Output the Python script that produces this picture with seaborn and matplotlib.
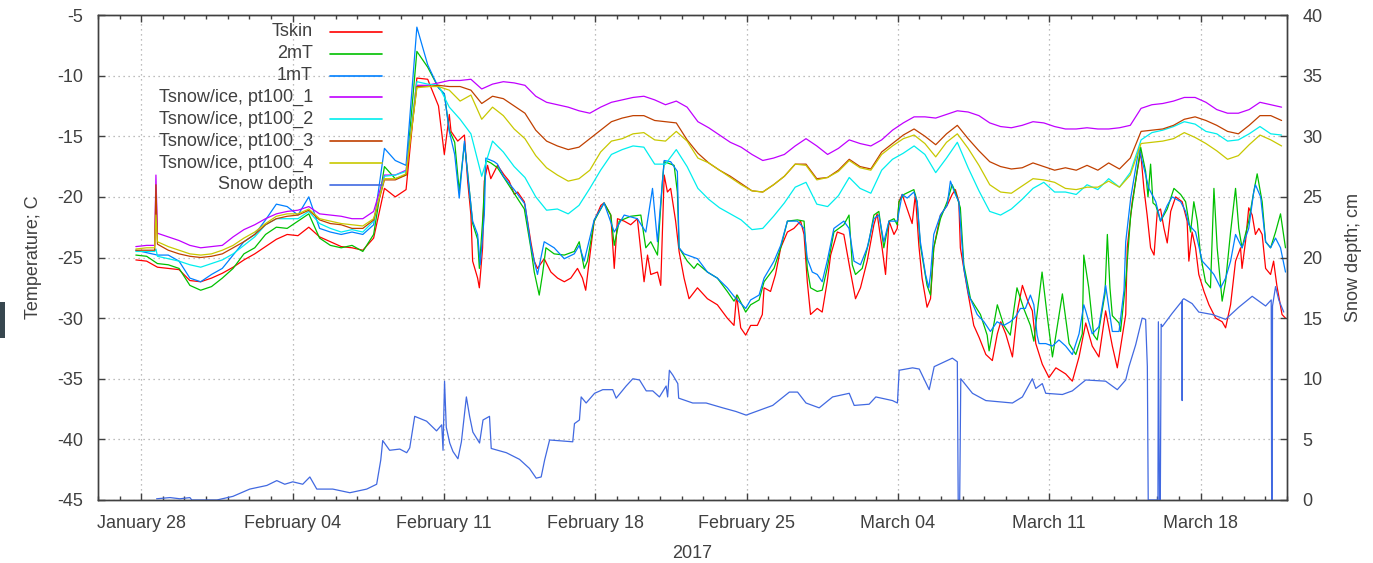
import numpy as np
import pandas as pd
import matplotlib
matplotlib.use("Agg")
import matplotlib.pyplot as plt
import matplotlib.dates as mdates
from matplotlib.lines import Line2D
from matplotlib.patches import Rectangle
import seaborn as sns

# Time stamps are stored as days since 2017-01-26 00:00
START = pd.Timestamp("2017-01-26")

# half-daily samples of the air / surface temperatures up to Feb 10
early_days = np.arange(1.75, 15.76, 0.5)
# half-daily samples for the snow/ice thermistors (plus the short spike on Jan 28)
pt_days = np.insert(np.arange(1.75, 54.76, 0.5), 2, [2.62, 2.68])

tskin_early = [
    -25.2, -25.3, -25.8, -25.9, -26.0, -26.9, -27.0, -26.7, -26.3, -25.8,
    -25.2, -24.7, -24.1, -23.5, -23.1, -23.2, -22.5, -23.3, -23.7, -24.1,
    -24.2, -24.4, -23.4, -19.3, -20.0, -19.4, -10.2, -10.3, -12.5,
]
t2m_early = [
    -24.8, -24.9, -25.5, -25.6, -25.9, -27.3, -27.7, -27.4, -26.7, -25.9,
    -24.7, -24.2, -23.1, -22.5, -22.6, -22.0, -21.4, -23.4, -24.0, -24.2,
    -24.0, -24.5, -23.1, -17.5, -18.5, -18.2, -8.0, -9.3, -11.0,
]
t1m_early = [
    -24.4, -24.6, -24.8, -24.8, -25.3, -26.7, -27.0, -26.4, -25.9, -24.8,
    -23.7, -23.1, -21.9, -20.6, -20.8, -21.5, -20.0, -22.6, -22.9, -23.1,
    -22.9, -23.1, -22.3, -16.0, -17.0, -17.4, -6.0, -9.1, -11.0,
]

# (day, value) records from Feb 11 onwards, logged more densely
tskin_late = [
    (16.02, -16.5), (16.25, -13.2), (16.33, -14.6), (16.64, -15.4), (16.95, -14.9),
    (17.10, -18.7), (17.25, -21.5), (17.33, -25.3), (17.56, -26.7), (17.64, -27.5),
    (17.79, -24.2), (17.87, -18.7), (18.02, -17.4), (18.17, -18.5), (18.48, -17.4),
    (18.79, -18.2), (19.02, -18.7), (19.26, -19.8), (19.41, -19.6), (19.72, -20.4),
    (19.87, -22.0), (20.02, -23.7), (20.18, -25.3), (20.33, -25.9), (20.64, -25.1),
    (20.95, -26.2), (21.26, -26.7), (21.57, -27.0), (21.87, -26.7), (22.18, -25.9),
    (22.41, -26.7), (22.56, -27.7), (22.72, -25.3), (22.95, -22.0), (23.26, -20.7),
    (23.41, -20.5), (23.72, -21.5), (23.88, -25.9), (24.03, -21.8), (24.34, -22.0),
    (24.64, -22.3), (24.95, -21.8), (25.26, -27.0), (25.42, -24.8), (25.57, -26.4),
    (25.88, -26.2), (26.03, -27.3), (26.19, -18.2), (26.34, -19.6), (26.49, -19.3),
    (26.72, -22.0), (26.88, -24.5), (27.11, -26.7), (27.34, -28.4), (27.73, -27.5),
    (28.19, -28.4), (28.65, -28.9), (29.11, -30.0), (29.42, -30.6), (29.54, -28.1),
    (29.73, -30.8), (29.96, -31.4), (30.19, -30.6), (30.50, -30.6), (30.73, -29.7),
    (30.81, -27.5), (31.11, -27.8), (31.34, -26.4), (31.58, -24.2), (31.89, -22.9),
    (32.19, -22.6), (32.50, -22.0), (32.66, -23.1), (32.81, -27.0), (32.96, -29.7),
    (33.27, -29.2), (33.50, -29.5), (33.73, -27.0), (33.89, -24.8), (34.20, -22.9),
    (34.50, -23.1), (34.81, -26.2), (35.04, -28.4), (35.27, -27.5), (35.58, -25.3),
    (35.89, -22.3), (36.04, -21.4), (36.27, -24.2), (36.43, -26.4), (36.59, -22.0),
    (36.82, -23.1), (36.97, -22.6), (37.05, -20.4), (37.20, -19.8), (37.43, -21.0),
    (37.66, -22.2), (37.81, -19.8), (37.97, -24.0), (38.12, -26.7), (38.35, -29.1),
    (38.51, -28.4), (38.66, -24.2), (38.97, -21.5), (39.28, -20.7), (39.51, -19.8),
    (39.66, -19.4), (39.82, -20.4), (39.89, -24.2), (40.20, -27.5), (40.51, -30.6),
    (40.76, -31.6), (41.07, -33.0), (41.37, -33.5), (41.60, -31.3), (41.76, -30.3),
    (41.99, -31.3), (42.30, -33.2), (42.53, -29.4), (42.76, -27.3), (42.99, -28.5),
    (43.22, -29.4), (43.38, -32.1), (43.68, -33.8), (43.99, -34.9), (44.31, -34.1),
    (44.76, -34.6), (45.07, -35.2), (45.38, -33.2), (45.69, -30.4), (45.99, -32.3),
    (46.30, -33.2), (46.61, -29.4), (46.92, -32.3), (47.15, -34.1), (47.54, -29.7),
    (47.61, -24.2), (47.84, -20.4), (48.07, -17.9), (48.23, -16.3), (48.38, -19.3),
    (48.53, -21.5), (48.69, -24.2), (48.85, -24.8), (49.00, -21.2), (49.15, -21.0),
    (49.31, -22.6), (49.46, -23.8), (49.62, -21.2), (49.85, -20.0), (50.15, -20.4),
    (50.38, -22.0), (50.46, -25.3), (50.61, -22.9), (50.77, -24.2), (50.92, -26.4),
    (51.16, -27.8), (51.39, -28.9), (51.70, -30.0), (52.00, -30.3), (52.16, -30.8),
    (52.39, -28.9), (52.62, -25.3), (52.85, -24.2), (52.92, -25.9), (53.08, -23.7),
    (53.23, -20.9), (53.39, -21.5), (53.54, -23.1), (53.70, -22.6), (53.85, -23.1),
    (54.01, -25.9), (54.24, -26.4), (54.38, -25.3), (54.53, -27.3), (54.77, -29.7),
    (54.93, -30.0),
]

t2m_late = [
    (16.02, -11.5), (16.25, -14.5), (16.50, -15.5), (16.71, -19.5), (16.95, -15.6),
    (17.10, -18.0), (17.33, -22.2), (17.56, -23.5), (17.64, -25.9), (17.79, -22.0),
    (17.94, -17.0), (18.17, -17.2), (18.48, -17.6), (19.10, -19.3), (19.72, -21.0),
    (20.02, -24.2), (20.18, -26.2), (20.41, -28.1), (20.56, -26.4), (20.72, -24.2),
    (21.10, -24.7), (21.57, -24.8), (22.03, -24.5), (22.26, -23.7), (22.49, -25.9),
    (22.64, -25.3), (22.95, -22.0), (23.41, -20.5), (23.72, -21.5), (23.88, -24.0),
    (24.11, -22.0), (24.64, -21.6), (25.11, -21.5), (25.34, -24.2), (25.57, -23.7),
    (25.88, -24.8), (26.11, -18.7), (26.19, -17.1), (26.65, -17.4), (26.80, -19.6),
    (26.88, -24.2), (27.26, -25.3), (27.57, -25.9), (27.73, -25.5), (28.19, -26.2),
    (28.65, -26.7), (29.11, -27.8), (29.42, -28.6), (29.57, -28.1), (29.96, -29.5),
    (30.19, -28.9), (30.58, -28.5), (30.81, -27.0), (31.27, -25.9), (31.58, -24.2),
    (31.89, -22.0), (32.35, -21.9), (32.66, -22.0), (32.81, -25.9), (32.96, -27.5),
    (33.27, -27.8), (33.50, -27.7), (33.73, -25.9), (34.04, -22.9), (34.50, -22.3),
    (34.74, -21.5), (34.89, -25.6), (35.04, -26.4), (35.35, -25.9), (35.66, -23.7),
    (35.89, -21.5), (36.12, -21.2), (36.35, -24.2), (36.59, -22.0), (36.82, -21.8),
    (36.97, -22.3), (37.05, -20.4), (37.28, -19.8), (37.74, -19.4), (37.89, -20.4),
    (38.04, -24.0), (38.35, -27.3), (38.51, -28.1), (38.66, -24.2), (38.97, -21.8),
    (39.28, -20.4), (39.51, -19.0), (39.66, -19.6), (39.89, -20.9), (40.05, -25.6),
    (40.36, -28.4), (40.82, -29.7), (41.13, -31.4), (41.22, -32.7), (41.60, -28.9),
    (41.90, -30.6), (42.20, -31.4), (42.51, -27.5), (42.82, -29.2), (43.13, -30.6),
    (43.29, -31.9), (43.67, -26.2), (43.90, -29.7), (44.15, -33.2), (44.61, -28.0),
    (44.92, -32.1), (45.23, -33.0), (45.53, -31.3), (45.60, -24.8), (45.83, -27.5),
    (46.06, -31.4), (46.22, -31.8), (46.58, -28.0), (46.69, -23.1), (46.81, -27.5),
    (46.92, -29.8), (47.23, -30.4), (47.30, -31.1), (47.54, -27.0), (47.77, -21.5),
    (48.00, -18.7), (48.23, -15.9), (48.46, -17.9), (48.57, -20.0), (48.69, -17.3),
    (48.80, -20.5), (48.93, -20.7), (49.15, -22.0), (49.46, -21.0), (49.77, -19.3),
    (50.08, -19.8), (50.31, -20.4), (50.54, -22.9), (50.69, -20.4), (50.85, -22.0),
    (51.00, -24.8), (51.23, -27.0), (51.46, -27.5), (51.62, -19.3), (51.77, -24.2),
    (52.00, -28.6), (52.16, -27.0), (52.39, -22.9), (52.62, -19.3), (52.77, -22.6),
    (52.92, -24.2), (53.23, -22.0), (53.46, -19.6), (53.62, -18.1), (53.85, -20.4),
    (54.01, -23.7), (54.24, -24.2), (54.47, -22.9), (54.70, -21.4), (54.93, -24.2),
]

t1m_late = [
    (16.02, -11.5), (16.25, -14.6), (16.50, -16.5), (16.71, -20.1), (16.95, -15.4),
    (17.10, -18.2), (17.33, -22.0), (17.56, -23.1), (17.68, -25.6), (17.87, -21.5),
    (17.94, -16.8), (18.33, -17.1), (18.48, -17.3), (18.75, -18.3), (19.25, -19.4),
    (19.75, -20.6), (20.02, -24.0), (20.18, -25.3), (20.33, -26.4), (20.64, -23.7),
    (21.10, -24.2), (21.57, -25.1), (22.03, -24.7), (22.26, -24.0), (22.49, -25.3),
    (22.95, -21.9), (23.41, -20.5), (23.88, -22.9), (24.34, -21.5), (24.95, -21.8),
    (25.34, -22.9), (25.65, -19.3), (25.88, -23.7), (26.19, -17.0), (26.49, -17.1),
    (26.80, -17.9), (26.88, -24.2), (27.11, -24.7), (27.73, -25.1), (28.19, -26.2),
    (28.65, -26.7), (29.11, -27.5), (29.42, -28.2), (29.96, -29.2), (30.19, -28.5),
    (30.58, -28.1), (30.81, -26.7), (31.27, -25.3), (31.58, -24.0), (31.89, -22.0),
    (32.35, -22.0), (32.66, -22.6), (32.81, -25.1), (33.04, -26.2), (33.27, -26.4),
    (33.50, -27.0), (33.73, -25.3), (34.04, -22.6), (34.50, -22.0), (34.74, -22.6),
    (34.97, -25.3), (35.27, -25.6), (35.58, -24.2), (35.89, -21.8), (36.12, -21.5),
    (36.35, -23.7), (36.59, -22.0), (36.97, -22.0), (37.20, -19.8), (37.43, -20.1),
    (37.74, -19.6), (37.89, -20.4), (38.04, -23.7), (38.28, -26.4), (38.43, -27.5),
    (38.51, -26.4), (38.66, -23.1), (38.97, -21.5), (39.28, -20.7), (39.43, -18.7),
    (39.66, -19.8), (39.82, -20.4), (40.05, -25.9), (40.28, -28.1), (40.67, -29.7),
    (40.98, -30.3), (41.28, -31.1), (41.59, -30.3), (41.90, -30.6), (42.20, -30.3),
    (42.44, -29.9), (42.67, -29.2), (42.90, -29.2), (43.13, -28.1), (43.29, -28.9),
    (43.44, -31.4), (43.53, -32.1), (43.84, -32.1), (44.15, -32.3), (44.45, -31.8),
    (44.76, -32.3), (45.07, -33.0), (45.38, -31.3), (45.60, -28.9), (45.69, -29.4),
    (45.99, -31.3), (46.30, -30.7), (46.61, -27.3), (46.92, -31.1), (47.23, -31.1),
    (47.46, -27.7), (47.54, -23.7), (47.77, -20.1), (48.00, -17.6), (48.15, -16.0),
    (48.38, -17.6), (48.61, -19.3), (48.93, -20.4), (49.15, -22.0), (49.46, -20.7),
    (49.69, -20.0), (50.08, -20.4), (50.31, -21.2), (50.46, -22.3), (50.77, -22.9),
    (51.08, -25.3), (51.39, -25.9), (51.62, -26.4), (51.93, -27.5), (52.16, -26.7),
    (52.39, -25.3), (52.62, -23.1), (52.92, -24.2), (53.23, -22.6), (53.46, -19.6),
    (53.54, -19.0), (53.78, -20.0), (54.01, -23.7), (54.24, -24.2), (54.47, -23.4),
    (54.70, -24.2), (54.93, -26.2),
]

pt100_1 = [
    -24.1, -24.0, -24.0, -18.2,
    -23.0, -23.3, -23.6, -24.0, -24.2, -24.1, -24.0, -23.3,
    -22.7, -22.3, -21.8, -21.4, -21.2, -21.1, -20.8, -21.4, -21.5, -21.6,
    -21.8, -21.8, -21.2, -18.2, -18.2, -17.8, -10.8, -10.8, -10.6, -10.4,
    -10.4, -10.3, -11.1, -10.7, -10.5, -10.6, -10.8, -11.7, -12.2, -12.4,
    -12.6, -12.9, -13.1, -12.6, -12.2, -12.0, -11.8, -11.7, -12.0, -12.4,
    -12.1, -12.6, -13.8, -14.3, -14.9, -15.5, -15.9, -16.5, -17.0, -16.8,
    -16.5, -15.8, -15.2, -15.8, -16.5, -16.0, -15.3, -15.6, -15.8, -15.3,
    -14.5, -13.9, -13.4, -13.4, -13.5, -13.2, -12.9, -13.0, -13.3, -13.9,
    -14.2, -14.3, -14.1, -13.8, -13.9, -14.2, -14.4, -14.4, -14.3, -14.4,
    -14.4, -14.3, -14.1, -12.7, -12.4, -12.3, -12.1, -11.8, -11.8, -12.2,
    -12.8, -13.1, -13.1, -12.8, -12.2, -12.4, -12.6,
]

pt100_2 = [
    -24.5, -24.5, -24.5, -24.3,
    -24.9, -25.1, -25.3, -25.6, -25.8, -25.5, -25.2, -24.7,
    -24.0, -23.3, -22.3, -21.8, -21.8, -21.8, -21.2, -22.2, -22.6, -22.9,
    -22.7, -22.9, -22.0, -18.3, -18.2, -17.9, -10.5, -10.7, -10.8, -12.6,
    -13.6, -14.8, -18.3, -15.4, -16.3, -17.5, -18.4, -20.0, -21.1, -21.0,
    -21.4, -20.7, -19.3, -17.8, -16.5, -16.1, -15.8, -15.9, -17.3, -17.3,
    -16.1, -17.5, -19.3, -20.2, -20.9, -21.4, -21.9, -22.7, -22.6, -21.6,
    -20.5, -19.2, -18.8, -20.6, -20.8, -19.9, -18.4, -19.3, -19.7, -17.8,
    -16.9, -16.4, -15.8, -16.5, -18.0, -16.8, -15.5, -17.6, -19.5, -21.2,
    -21.5, -21.0, -20.2, -19.3, -18.8, -19.6, -19.6, -19.8, -19.0, -19.4,
    -18.5, -19.2, -18.0, -15.3, -14.7, -14.5, -14.2, -13.8, -14.0, -14.6,
    -14.8, -15.4, -15.3, -14.8, -14.2, -14.8, -14.9,
]

pt100_3 = [
    -24.4, -24.4, -24.4, -19.0,
    -23.9, -24.4, -24.7, -24.9, -25.0, -24.9, -24.7, -24.2,
    -23.7, -23.1, -22.3, -21.8, -21.6, -21.5, -21.1, -21.9, -22.2, -22.3,
    -22.6, -22.6, -21.9, -18.6, -18.6, -18.2, -10.9, -10.9, -10.8, -10.9,
    -10.9, -11.2, -12.3, -11.7, -11.9, -12.5, -13.1, -14.5, -15.4, -15.8,
    -16.1, -15.9, -15.2, -14.5, -13.8, -13.5, -13.3, -13.3, -13.7, -13.8,
    -13.9, -15.3, -16.4, -17.2, -17.8, -18.3, -18.9, -19.5, -19.6, -19.0,
    -18.3, -17.3, -17.3, -18.5, -18.4, -17.8, -16.9, -17.5, -17.7, -16.3,
    -15.6, -14.9, -14.4, -15.0, -15.7, -14.8, -14.1, -15.2, -16.2, -17.1,
    -17.5, -17.7, -17.6, -17.2, -17.5, -17.8, -17.6, -17.8, -17.4, -17.8,
    -17.2, -17.7, -16.8, -14.6, -14.5, -14.4, -14.1, -13.6, -13.4, -13.7,
    -14.1, -14.6, -14.8, -14.1, -13.3, -13.3, -13.7,
]

pt100_4 = [
    -24.3, -24.2, -24.2, -21.5,
    -23.7, -24.1, -24.4, -24.7, -24.8, -24.7, -24.4, -24.0,
    -23.4, -22.9, -22.2, -21.6, -21.4, -21.4, -21.0, -21.8, -22.0, -22.2,
    -22.3, -22.4, -21.8, -18.5, -18.5, -18.1, -11.0, -10.9, -10.9, -11.2,
    -12.1, -11.6, -13.6, -12.6, -13.3, -14.4, -15.2, -16.6, -17.6, -18.2,
    -18.7, -18.5, -17.8, -16.3, -15.4, -15.2, -14.8, -14.7, -15.3, -15.4,
    -14.6, -15.4, -16.8, -17.2, -17.8, -18.4, -19.0, -19.5, -19.6, -19.0,
    -18.3, -17.3, -17.4, -18.6, -18.4, -17.9, -17.0, -17.6, -17.8, -16.5,
    -15.8, -15.2, -14.9, -15.6, -16.7, -15.5, -14.8, -16.0, -17.4, -19.0,
    -19.6, -19.7, -19.1, -18.5, -18.6, -18.8, -19.3, -19.4, -19.2, -19.2,
    -18.7, -19.2, -18.2, -15.6, -15.5, -15.4, -15.2, -14.7, -15.1, -15.6,
    -16.2, -16.9, -16.6, -15.7, -14.9, -15.3, -15.8,
]

# snow depth (cm); the sensor occasionally drops out to zero
snow_days = [
    2.71, 3.33, 3.79, 4.25, 4.34, 5.50, 6.24, 7.02, 7.81, 8.27,
    8.64, 9.01, 9.47, 9.80, 10.12, 10.86, 11.65, 12.43, 12.89, 13.08,
    13.17, 13.49, 13.96, 14.28, 14.42, 14.65, 15.20, 15.66, 15.90, 15.96,
    16.03, 16.11, 16.27, 16.42, 16.65, 16.81, 17.04, 17.19, 17.34, 17.65,
    17.81, 18.11, 18.19, 18.89, 19.50, 19.96, 20.27, 20.50, 20.66, 20.89,
    21.96, 22.04, 22.27, 22.35, 22.58, 22.97, 23.35, 23.81, 23.97, 24.43,
    24.74, 25.05, 25.36, 25.66, 25.97, 26.28, 26.35, 26.43, 26.59, 26.82,
    26.86, 27.51, 28.13, 28.90, 29.51, 29.98, 30.59, 31.21, 31.98, 32.36,
    32.75, 33.36, 33.98, 34.75, 34.98, 35.67, 35.98, 36.75, 36.98, 37.06,
    37.68, 37.99, 38.45, 38.68, 39.52, 39.75, 39.79, 39.86, 39.91, 40.45,
    41.07, 42.30, 42.76, 43.22, 43.38, 43.68, 43.84, 44.61, 45.07, 45.69,
    46.61, 47.15, 47.54, 47.69, 48.00, 48.30, 48.46, 48.54, 48.58, 49.03,
    49.05, 49.10, 49.14, 49.18, 49.23, 49.69, 50.14, 50.15, 50.16, 50.23,
    50.61, 50.92, 51.54, 52.16, 52.77, 53.39, 54.01, 54.27, 54.29, 54.31,
    54.33, 54.47, 54.62, 54.85,
]
snow_depth = [
    0.1, 0.2, 0.1, 0.2, 0.0, 0.0, 0.3, 0.9, 1.2, 1.6,
    1.3, 1.5, 1.3, 1.9, 0.9, 0.9, 0.6, 0.9, 1.3, 3.3,
    4.9, 4.1, 4.2, 3.9, 4.3, 6.9, 6.5, 5.7, 6.2, 4.1,
    9.8, 6.0, 4.7, 4.0, 3.4, 4.8, 8.5, 6.9, 5.6, 4.7,
    6.6, 6.9, 4.25, 3.9, 3.35, 2.6, 1.8, 1.9, 3.3, 4.95,
    4.8, 6.3, 6.6, 8.5, 8.0, 8.8, 9.1, 9.1, 8.4, 9.4,
    10.0, 9.9, 9.0, 9.0, 8.5, 9.4, 8.5, 10.7, 10.3, 9.6,
    8.4, 8.0, 8.0, 7.6, 7.3, 7.0, 7.4, 7.8, 8.9, 8.9,
    8.0, 7.6, 8.5, 8.8, 7.8, 7.9, 8.5, 8.2, 8.0, 10.7,
    10.9, 10.8, 9.1, 11.0, 11.7, 11.4, 0.0, 0.0, 10.0, 8.8,
    8.2, 8.0, 8.5, 10.0, 9.2, 9.6, 8.8, 8.7, 9.0, 9.9,
    9.8, 9.1, 9.9, 11.0, 12.8, 15.0, 14.9, 11.0, 0.0, 0.0,
    14.7, 0.0, 0.0, 14.5, 14.3, 15.4, 16.4, 8.2, 16.5, 16.6,
    16.2, 15.5, 15.3, 14.9, 15.9, 16.8, 16.0, 16.5, 0.0, 0.0,
    16.0, 17.6, 16.5, 15.5,
]


def join(early_vals, late_pairs):
    days = np.concatenate([early_days, [d for d, _ in late_pairs]])
    vals = np.concatenate([early_vals, [v for _, v in late_pairs]])
    return days, vals


def to_time(days):
    return START + pd.to_timedelta(np.asarray(days, dtype=float), unit="D")


temperature_series = [
    ("Tskin", *join(tskin_early, tskin_late), "#ff0000"),
    ("2mT", *join(t2m_early, t2m_late), "#00c000"),
    ("1mT", *join(t1m_early, t1m_late), "#0080ff"),
    ("Tsnow/ice, pt100_1", pt_days, pt100_1, "#c000ff"),
    ("Tsnow/ice, pt100_2", pt_days, pt100_2, "#00eeee"),
    ("Tsnow/ice, pt100_3", pt_days, pt100_3, "#c04000"),
    ("Tsnow/ice, pt100_4", pt_days, pt100_4, "#c8c800"),
]
SNOW_LABEL, SNOW_COLOR = "Snow depth", "#4169e1"

sns.set_style("ticks")
plt.rcParams["font.family"] = ["Liberation Sans", "DejaVu Sans"]
plt.rcParams["font.size"] = 13
plt.rcParams["axes.unicode_minus"] = False
TEXT = "#404040"

W, H = 1373, 563
fig = plt.figure(figsize=(W / 100, H / 100), dpi=100)
ax = fig.add_axes([98 / W, 1 - 500 / H, (1287 - 98) / W, (500 - 15) / H])
ax2 = ax.twinx()

LW = 0.9
for label, days, vals, color in temperature_series:
    sns.lineplot(x=to_time(days), y=vals, ax=ax, color=color, linewidth=LW,
                 estimator=None, sort=False, legend=False)
sns.lineplot(x=to_time(snow_days), y=snow_depth, ax=ax2, color=SNOW_COLOR,
             linewidth=LW, estimator=None, sort=False, legend=False)

# axes ranges
ax.set_xlim(mdates.date2num(pd.Timestamp("2017-01-26")),
            mdates.date2num(pd.Timestamp("2017-03-22")))
ax.set_ylim(-45, -5)
ax2.set_ylim(0, 40)
ax.set_yticks(np.arange(-45, -4, 5))
ax2.set_yticks(np.arange(0, 41, 5))

weekly = pd.date_range("2017-01-28", "2017-03-18", freq="7D")
ax.xaxis.set_major_locator(plt.FixedLocator(mdates.date2num(weekly)))
ax.xaxis.set_major_formatter(mdates.DateFormatter("%B %d"))
ax.xaxis.set_minor_locator(mdates.DayLocator())

ax.grid(True, which="major", color="#a8a8a8", linestyle=(0, (1, 3)), linewidth=0.9)
ax2.grid(False)
ax.set_axisbelow(True)

for a in (ax, ax2):
    for sp in a.spines.values():
        sp.set_color("#404040")
        sp.set_linewidth(1.0)
        sp.set_visible(True)

ax.tick_params(axis="x", which="major", direction="in", length=5, width=1,
               top=True, bottom=True, pad=10.5, colors="#404040", labelcolor=TEXT,
               labelsize=13)
ax.tick_params(axis="x", which="minor", direction="in", length=3, width=1,
               top=True, bottom=True, colors="#404040")
ax.tick_params(axis="y", which="major", direction="in", length=5, width=1,
               left=True, right=False, pad=10.5, colors="#404040",
               labelcolor=TEXT, labelsize=13)
ax2.tick_params(axis="y", which="major", direction="in", length=5, width=1,
                right=True, pad=11, colors="#404040", labelcolor=TEXT,
                labelsize=13)

ax.set_xlabel("2017", color=TEXT, fontsize=13, labelpad=10)
ax.set_ylabel("Temperature; C", color=TEXT, fontsize=13, labelpad=11)
ax2.set_ylabel("Snow depth; cm", color=TEXT, fontsize=13, labelpad=16)

# key: right-aligned labels with the line sample to their right
legend_entries = [(lab, col) for lab, _, _, col in temperature_series]
legend_entries.append((SNOW_LABEL, SNOW_COLOR))
for i, (lab, col) in enumerate(legend_entries):
    yp = 31.7 + 21.9 * i
    fig.text(313 / W, 1 - yp / H, lab, ha="right", va="center",
             color=TEXT, fontsize=13)
    fig.add_artist(Line2D([330 / W, 382 / W], [1 - yp / H, 1 - yp / H],
                          transform=fig.transFigure, color=col, linewidth=1.2))

# small dark marker at the left edge of the canvas
fig.add_artist(Rectangle((0, 1 - 338 / H), 4.7 / W, 36 / H,
                         transform=fig.transFigure, color="#37474f", lw=0))

fig.savefig("out.png", dpi=100)
